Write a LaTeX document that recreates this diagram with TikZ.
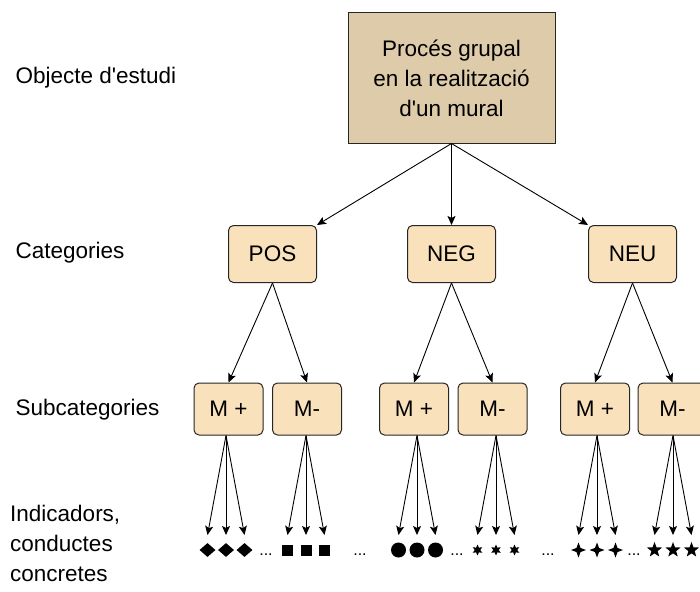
\documentclass[tikz,border=0pt]{standalone}
\usepackage{fontspec}
\setmainfont{Liberation Sans}
\usepackage{tikz}
\usetikzlibrary{arrows.meta,shapes.geometric,positioning,calc}
\definecolor{topfill}{RGB}{222,203,170}
\definecolor{catfill}{RGB}{249,225,188}
\tikzset{
  txt/.style={font=\fontsize{22.5}{30}\selectfont},
  topbox/.style={txt,draw=black!85,line width=1pt,fill=topfill,minimum width=207pt,minimum height=130pt,align=center,inner sep=0pt},
  catbox/.style={txt,draw=black!85,line width=1pt,fill=catfill,rounded corners=5pt,minimum width=88pt,minimum height=57pt,inner sep=0pt},
  subbox/.style={catbox,minimum width=69pt,minimum height=52pt},
  arr/.style={-{Stealth[length=9pt,width=8pt,inset=2pt]},black,line width=0.9pt},
  inddiam/.style={diamond,fill=black,minimum width=16pt,minimum height=14pt,inner sep=0pt},
  indsq/.style={rectangle,fill=black,minimum size=11pt,inner sep=0pt},
  indcirc/.style={circle,fill=black,minimum size=15pt,inner sep=0pt},
  indast/.style={star,star points=6,star point ratio=2,fill=black,minimum size=11pt,inner sep=0pt},
  indcross/.style={star,star points=4,star point ratio=2.6,fill=black,minimum size=15pt,inner sep=0pt},
  indstar/.style={star,star points=5,star point ratio=2.4,fill=black,minimum size=16pt,inner sep=0pt},
  dots/.style={font=\fontsize{16}{16}\selectfont,inner sep=0pt}
}
\begin{document}
\begin{tikzpicture}[x=1pt,y=-1pt]
\useasboundingbox (0,0) rectangle (700,591);
\node[txt,anchor=west] (lobj) at (12,78) {Objecte d\textquotesingle estudi};
\node[txt,anchor=west] (lcat) at (12,253) {Categories};
\node[txt,anchor=west] (lsub) at (12,410) {Subcategories};
\node[txt,anchor=north west,align=left,inner sep=0pt] (lind) at (10,505) {Indicadors,\\conductes\\concretes};
\node[topbox] (obj) at (451.5,78) {Procés grupal\\en la realització\\d\textquotesingle un mural};
\node[catbox] (pos) at (272.5,254) {POS};
\node[catbox] (neg) at (451.5,254) {NEG};
\node[catbox] (neu) at (632.5,254) {NEU};
\draw[arr] (obj.south) -- (pos.north east);
\draw[arr] (obj.south) -- (neg.north);
\draw[arr] (obj.south) -- (neu.north west);
\foreach \cat/\xa/\xb in {pos/228.5/307,neg/414/492.5,neu/595/672.5}{
  \node[subbox] (\cat-p) at (\xa,409) {M +};
  \node[subbox] (\cat-m) at (\xb,409) {M-};
  \draw[arr] (\cat.south) -- (\cat-p.north);
  \draw[arr] (\cat.south) -- (\cat-m.north);
}
\foreach \sb/\xc/\sym in {pos-p/226/inddiam,pos-m/306/indsq,neg-p/417/indcirc,neg-m/496/indast,neu-p/597/indcross,neu-m/673/indstar}{
  \foreach \dx [count=\k] in {-18.5,0,18.5}{
    \coordinate (\sb-t\k) at (\xc+\dx,535);
    \draw[arr] (\sb.south -| {\xc,0}) -- (\sb-t\k);
    \node[\sym] (\sb-s\k) at (\xc+\dx,550) {};
  }
}
\node[dots] (d1) at (266,555) {...};
\node[dots] (d2) at (360,555) {...};
\node[dots] (d3) at (457,555) {...};
\node[dots] (d4) at (548,555) {...};
\node[dots] (d5) at (634,555) {...};
\end{tikzpicture}
\end{document}
